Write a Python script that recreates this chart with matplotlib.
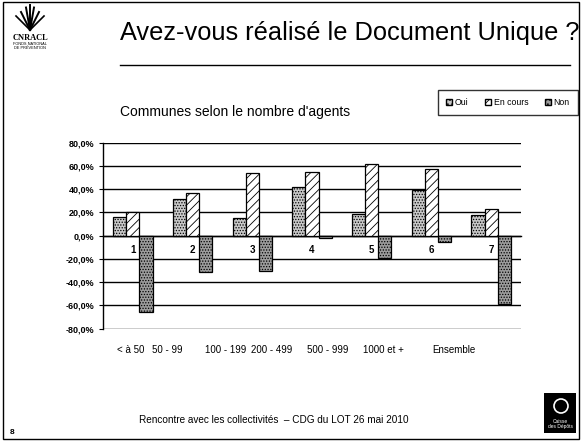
import numpy as np
import matplotlib
matplotlib.use('Agg')
from matplotlib import pyplot as plt
from matplotlib.patches import Rectangle, Circle, Patch
from matplotlib.lines import Line2D

plt.rcParams['font.family'] = ['Liberation Sans', 'DejaVu Sans']
plt.rcParams['hatch.linewidth'] = 0.6

# data (percent)
groups = ['1', '2', '3', '4', '5', '6', '7']
band_labels = ['< à 50', '50 - 99', '100 - 199', '200 - 499', '500 - 999', '1000 et +', 'Ensemble']
oui = [16, 32, 15, 42, 19, 39, 18]
en_cours = [20, 37, 54, 55, 62, 57, 23]
non = [-66, -31, -30, -2, -19, -5, -59]
series_names = ['Oui', 'En cours', 'Non']

W, H = 582, 441


def fx(px):
    return px / W


def fy(py):
    return 1 - py / H


fig = plt.figure(figsize=(W / 100, H / 100), dpi=100)

# slide frame
fig.add_artist(Rectangle((fx(3), fy(439)), fx(576), 437 / H, transform=fig.transFigure,
                         fill=False, edgecolor='black', lw=1))

# title + rule
fig.text(fx(120), fy(33), 'Avez-vous réalisé le Document Unique ?', fontsize=18.3,
         va='center', ha='left')
fig.add_artist(Line2D([fx(120), fx(570)], [fy(65), fy(65)], color='black', lw=1,
                      transform=fig.transFigure))
fig.text(fx(120), fy(112), "Communes selon le nombre d'agents", fontsize=10, va='center')

# CNRACL logo (rough)
lg = fig.add_axes([fx(8), fy(58), fx(45), 54 / H])
lg.set_xlim(0, 45)
lg.set_ylim(0, 54)
lg.axis('off')
for dx, h in [(-9, 20), (-4, 25), (0, 28), (4, 25), (9, 20)]:
    lg.plot([22, 22 + dx], [28, 28 + h * 0.9], color='black', lw=1.4)
lg.plot([8, 22, 36], [42, 28, 42], color='black', lw=1.2)
lg.text(22, 20, 'CNRACL', fontsize=6, fontweight='bold', ha='center', va='center',
        family='Liberation Serif')
lg.text(22, 12, 'FONDS NATIONAL\nDE PRÉVENTION', fontsize=2.8, ha='center', va='center',
        linespacing=1.0)

# chart
ax = fig.add_axes([fx(103), fy(328.7), fx(418), 186 / H])
x = np.arange(len(groups))
w = 0.22
ax.bar(x - w, oui, w, color='#c8c8c8', edgecolor='black', hatch='......', lw=0.9,
       label=series_names[0], zorder=3)
ax.bar(x, en_cours, w, color='white', edgecolor='black', hatch='////', lw=0.9,
       label=series_names[1], zorder=3)
ax.bar(x + w, non, w, color='#9c9c9c', edgecolor='black', hatch='......', lw=0.9,
       label=series_names[2], zorder=3)

ax.set_xlim(-0.5, len(groups) - 0.5)
ax.set_ylim(-80, 80)
yt = np.arange(-80, 81, 20)
ax.set_yticks(yt)
ax.set_yticklabels([f'{v:.1f}%'.replace('.', ',') for v in yt], fontsize=6.5,
                   fontweight='bold')
ax.yaxis.grid(True, color='black', lw=1)
ax.set_axisbelow(True)
for s in ['top', 'right']:
    ax.spines[s].set_visible(False)
ax.spines['bottom'].set_position(('data', 0))
ax.spines['bottom'].set_linewidth(1)
ax.spines['left'].set_linewidth(1)
ax.tick_params(axis='y', length=3, width=0.8, pad=3)
ax.set_xticks(x)
ax.set_xticklabels(groups, fontsize=7, fontweight='bold')
ax.tick_params(axis='x', length=0, pad=7)

# band labels typed under the chart
band_x = [131, 167, 226, 272, 328, 383, 454]
for lab, px in zip(band_labels, band_x):
    fig.text(fx(px), fy(350), lab, fontsize=7, ha='center', va='center')

# legend box
handles = [Patch(facecolor='#c8c8c8', edgecolor='black', hatch='....'),
           Patch(facecolor='white', edgecolor='black', hatch='///'),
           Patch(facecolor='#9c9c9c', edgecolor='black', hatch='....')]
fig.legend(handles, series_names, loc='upper left', bbox_to_anchor=(fx(438), fy(90)),
           ncol=3, fontsize=6.3, frameon=True, fancybox=False, edgecolor='black',
           handlelength=0.7, handleheight=0.7, handletextpad=0.3, columnspacing=1.9,
           borderpad=0.9, borderaxespad=0)

# footer
fig.text(fx(274), fy(420), 'Rencontre avec les collectivités  – CDG du LOT 26 mai 2010',
         fontsize=7.2, ha='center', va='center')
fig.text(fx(12), fy(432), '8', fontsize=6, fontweight='bold', ha='center', va='center')

# Caisse des Dépôts logo (rough)
cd = fig.add_axes([fx(544), fy(433), fx(32), 40 / H])
cd.set_xlim(0, 32)
cd.set_ylim(0, 40)
cd.axis('off')
cd.add_patch(Rectangle((0, 0), 32, 40, color='black'))
cd.add_patch(Circle((17, 27), 7, fill=False, edgecolor='white', lw=1.2))
cd.text(16, 9, 'Caisse\ndes Dépôts', color='white', fontsize=3.5, ha='center', va='center')

fig.savefig('out.png', dpi=100)
